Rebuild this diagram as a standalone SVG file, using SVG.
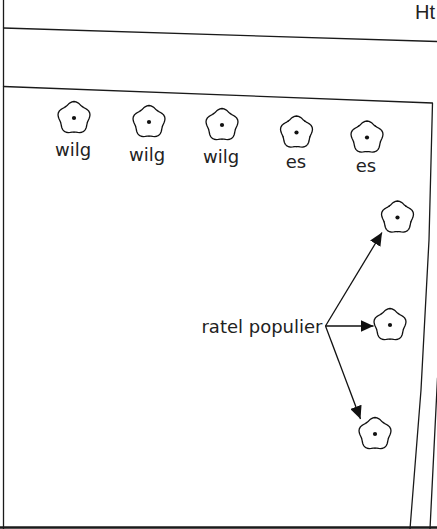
<svg xmlns="http://www.w3.org/2000/svg" xmlns:xlink="http://www.w3.org/1999/xlink" width="437" height="529" viewBox="0 0 437 529">
<style>
.ln{fill:none;stroke:#1a1a1a;stroke-width:1.3;stroke-linejoin:round;stroke-linecap:round}
.fl{fill:none;stroke:#111;stroke-width:1.3;stroke-linejoin:round;stroke-linecap:round}
.lbl{font-family:"DejaVu Sans",Verdana,sans-serif;font-size:18px;fill:#222;text-anchor:middle}
.ttl{font-family:"Liberation Sans",Arial,sans-serif;font-size:20px;fill:#222}
.arr{fill:none;stroke:#111;stroke-width:1.3}
</style>
<defs>
<path id="lobe" d="M11.41,-8.29 L12.56,-6.90 L13.88,-5.50 L15.18,-3.90 L16.14,-2.04 L16.5,0 L16.14,2.04 L15.18,3.90 L13.88,5.50 L12.56,6.90 L11.41,8.29"/>
<g id="flower">
<use xlink:href="#lobe" href="#lobe" class="fl" transform="rotate(-90)"/>
<use xlink:href="#lobe" href="#lobe" class="fl" transform="rotate(-18)"/>
<use xlink:href="#lobe" href="#lobe" class="fl" transform="rotate(54)"/>
<use xlink:href="#lobe" href="#lobe" class="fl" transform="rotate(126)"/>
<use xlink:href="#lobe" href="#lobe" class="fl" transform="rotate(198)"/>
<circle r="2.1" fill="#111"/>
</g>
<marker id="ah" markerUnits="userSpaceOnUse" markerWidth="14" markerHeight="12" refX="13" refY="6" orient="auto">
<path d="M0,0 L13,6 L0,12 Z" fill="#111"/>
</marker>
</defs>
<rect width="437" height="529" fill="#fff"/>
<g id="frame">
<line class="ln" x1="3.5" y1="0" x2="3.5" y2="529"/>
<line class="ln" x1="3.5" y1="28" x2="437" y2="41.5"/>
<path class="ln" d="M3.5,86.5 L432.5,103 L429,240 L421,390 L410,529"/>
<line class="ln" x1="437.5" y1="378" x2="430" y2="529"/>
<line x1="0" y1="527.5" x2="437" y2="527.5" stroke="#1a1a1a" stroke-width="2.6"/>
<text class="ttl" x="415" y="19">Ht</text>
</g>
<g id="wilg1"><use xlink:href="#flower" href="#flower" transform="translate(74,118)"/><text class="lbl" x="73" y="156">wilg</text></g>
<g id="wilg2"><use xlink:href="#flower" href="#flower" transform="translate(149,122)"/><text class="lbl" x="147" y="161">wilg</text></g>
<g id="wilg3"><use xlink:href="#flower" href="#flower" transform="translate(222,125)"/><text class="lbl" x="221" y="163">wilg</text></g>
<g id="es1"><use xlink:href="#flower" href="#flower" transform="translate(296.5,132.5)"/><text class="lbl" x="296" y="168">es</text></g>
<g id="es2"><use xlink:href="#flower" href="#flower" transform="translate(367,137.5)"/><text class="lbl" x="366" y="172">es</text></g>
<g id="populier1"><use xlink:href="#flower" href="#flower" transform="translate(397.5,217.5)"/></g>
<g id="populier2"><use xlink:href="#flower" href="#flower" transform="translate(390,325)"/></g>
<g id="populier3"><use xlink:href="#flower" href="#flower" transform="translate(375,434)"/></g>
<g id="label-populier"><text class="lbl" style="text-anchor:end" x="322.5" y="333">ratel populier</text></g>
<g id="connectors">
<line class="arr" x1="325.5" y1="326" x2="382" y2="232.5" marker-end="url(#ah)"/>
<line class="arr" x1="325.5" y1="326" x2="373.5" y2="326" marker-end="url(#ah)"/>
<line class="arr" x1="325.5" y1="326" x2="360.5" y2="419" marker-end="url(#ah)"/>
</g>
</svg>
